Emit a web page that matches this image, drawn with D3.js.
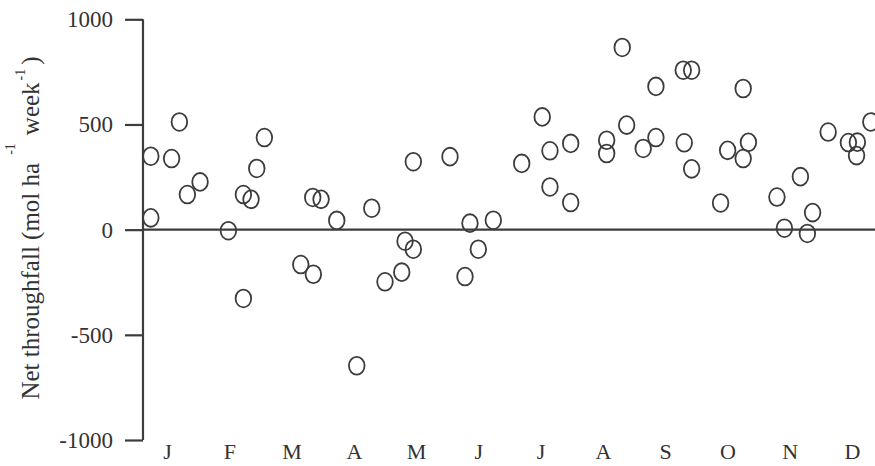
<!DOCTYPE html>
<html>
<head>
<meta charset="utf-8">
<script src="https://cdn.jsdelivr.net/npm/d3@7"></script>
<style>
  html, body { margin: 0; padding: 0; background: #fff; }
  svg { display: block; }
</style>
</head>
<body>
<svg id="chart" width="875" height="466"></svg>
<script>
// Month tick labels (placed at mid-month)
const monthLabels = ["J","F","M","A","M","J","J","A","S","O","N","D"];
const monthPositions = [0.5,1.5,2.5,3.5,4.5,5.5,6.5,7.5,8.5,9.5,10.5,11.5];
// Y ticks
const yTicks = [-1000, -500, 0, 500, 1000];

// Sampling time (decimal months from 1 January)
const sampleMonth = [
  0.238, 0.238, 0.572, 0.697, 0.825, 1.029, 1.484, 1.725, 1.848, 1.940,
  2.062, 1.725, 2.647, 2.839, 2.849, 2.973, 3.225, 3.546, 3.787, 4.000,
  4.269, 4.322, 4.455, 4.455, 5.044, 5.285, 5.365, 5.499, 5.740, 6.196,
  6.526, 6.650, 6.650, 6.983, 6.983, 7.561, 7.561, 7.811, 7.882, 8.148,
  8.352, 8.352, 8.791, 8.926, 8.807, 8.926, 9.391, 9.504, 9.754, 9.838,
  9.754, 10.296, 10.416, 10.673, 10.785, 10.869, 11.119, 11.444, 11.588, 11.575,
  11.805
];
// Net throughfall (mol ha-1 week-1)
const netThroughfall = [
  349, 56, 338, 512, 167, 227, -5, 167, 144, 291,
  438, -327, -166, 153, -212, 144, 44, -647, 102, -248,
  -202, -55, -93, 323, 347, -223, 31, -93, 45, 315,
  536, 375, 203, 410, 129, 425, 362, 866, 497, 386,
  681, 438, 758, 758, 413, 289, 127, 377, 671, 415,
  338, 155, 7, 252, -18, 81, 464, 414, 416, 352,
  512
];

const svg = d3.select("#chart");
const ink = "#3c3c3c";
const serif = "'Liberation Serif', 'Times New Roman', serif";
const axisX = 143;

const x = d3.scaleLinear().domain([0, 12]).range([136, 883]);
const y = d3.scaleLinear().domain([-1000, 1000]).range([440, 19.3]);

// Y axis
const yAxis = d3.axisLeft(y).tickValues(yTicks).tickSize(18).tickPadding(12).tickFormat(d => String(d));
const gy = svg.append("g").attr("transform", `translate(${axisX},0)`).call(yAxis);
gy.select(".domain").attr("stroke", ink).attr("stroke-width", 2.2).attr("d", `M0,${y(1000)}V${y(-1000)}`);
gy.selectAll(".tick line").attr("stroke", ink).attr("stroke-width", 2.2);
gy.selectAll(".tick text")
  .attr("fill", "#333")
  .style("font-family", serif)
  .style("font-size", "23px");

// X axis labels (no line)
const xAxis = d3.axisBottom(x).tickValues(monthPositions)
  .tickFormat((d, i) => monthLabels[i]).tickSize(0).tickPadding(0);
const gx = svg.append("g").attr("transform", `translate(0,443)`).call(xAxis);
gx.select(".domain").remove();
gx.selectAll(".tick text")
  .attr("fill", "#333")
  .style("font-family", serif)
  .style("font-size", "22px");

// Zero line
svg.append("line")
  .attr("x1", axisX).attr("x2", 875)
  .attr("y1", y(0)).attr("y2", y(0))
  .attr("stroke", ink).attr("stroke-width", 2.4);

// Points
const pts = sampleMonth.map((m, i) => ({ m, v: netThroughfall[i] }));
svg.append("g").selectAll("ellipse").data(pts).join("ellipse")
  .attr("cx", d => x(d.m))
  .attr("cy", d => y(d.v))
  .attr("rx", 7.8)
  .attr("ry", 8.9)
  .attr("fill", "none")
  .attr("stroke", ink)
  .attr("stroke-width", 1.8);

// Y axis title
const title = svg.append("text")
  .attr("transform", `translate(38.5,${228}) rotate(-90)`)
  .attr("text-anchor", "middle")
  .attr("fill", "#333")
  .style("font-family", serif)
  .style("font-size", "25px");
title.append("tspan").text("Net throughfall (mol ha");
title.append("tspan").attr("dx", 8).attr("dy", -24).style("font-size", "14px").text("-1");
title.append("tspan").attr("dx", 8).attr("dy", 24).text("week");
title.append("tspan").attr("dx", 2).attr("dy", -14).style("font-size", "14px").text("-1");
title.append("tspan").attr("dx", 4).attr("dy", 14).text(")");
</script>
</body>
</html>
